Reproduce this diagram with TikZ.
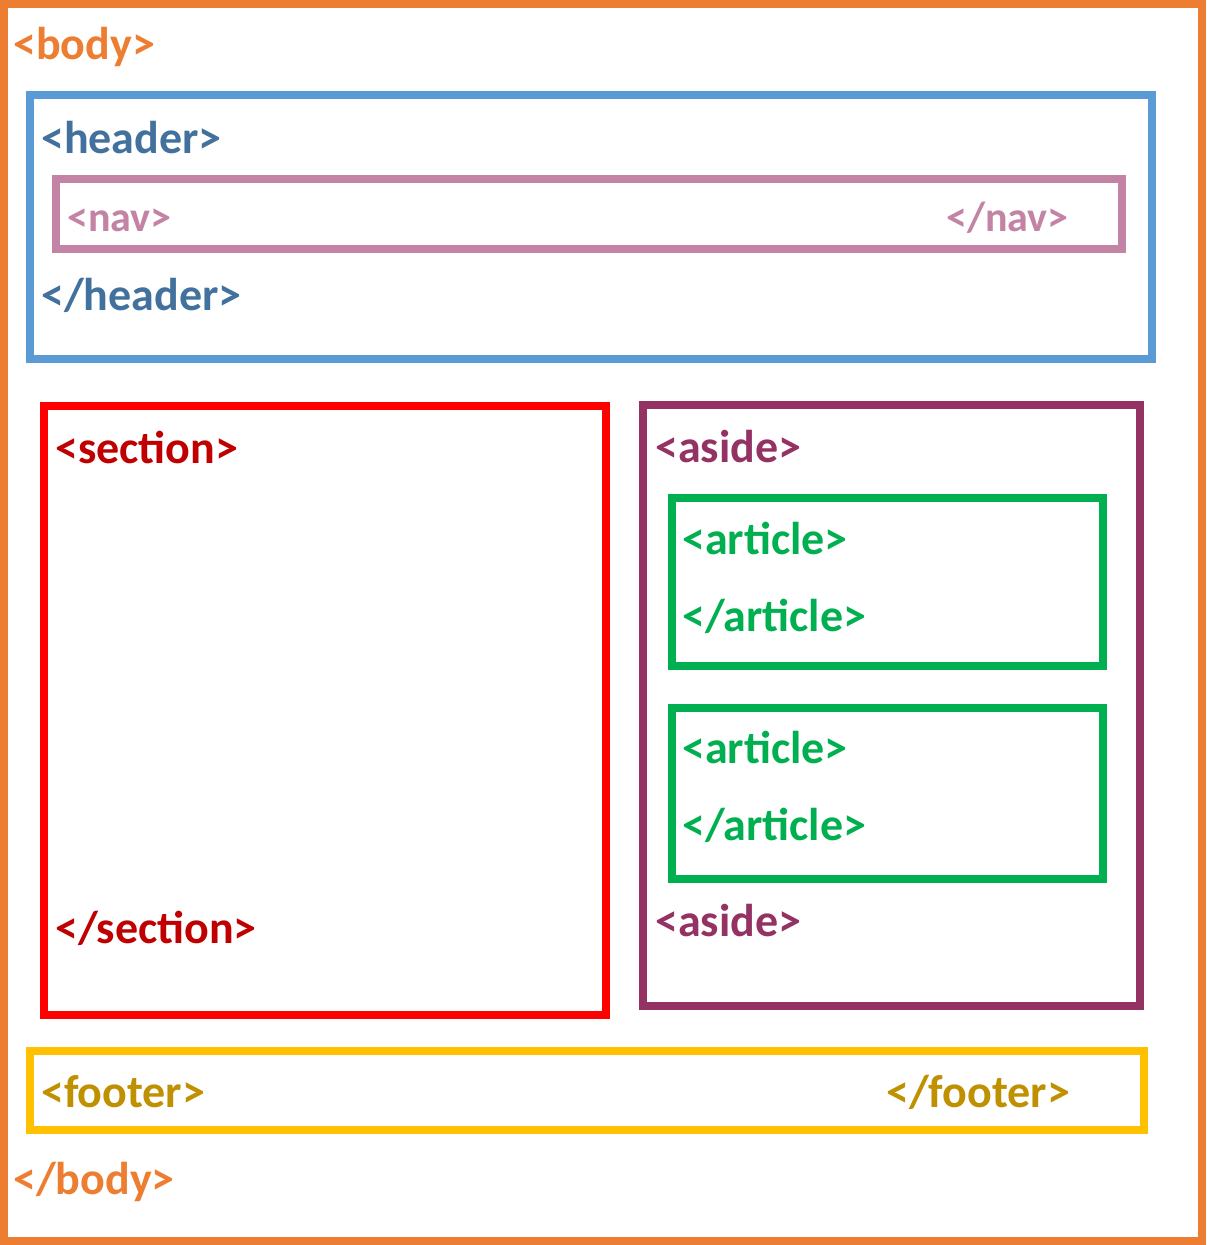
\documentclass[tikz,border=0pt]{standalone}
\usepackage{fontspec}
\setmainfont{Carlito}
\usepackage{tikz}

\definecolor{bodyorange}{HTML}{ED7D31}
\definecolor{headframe}{HTML}{5B9BD5}
\definecolor{headtext}{HTML}{41719C}
\definecolor{navpink}{HTML}{C383A4}
\definecolor{sectext}{HTML}{C00000}
\definecolor{asidepurple}{HTML}{953264}
\definecolor{artgreen}{HTML}{00B050}
\definecolor{footframe}{HTML}{FFC000}
\definecolor{foottext}{HTML}{BF9000}

\tikzset{
  tag/.style={anchor=base west, inner sep=0pt, font=\fontsize{46}{52}\selectfont\bfseries},
  smalltag/.style={tag, font=\fontsize{42}{48}\selectfont\bfseries},
  frame/.style={line width=7.5pt}
}

\begin{document}
\begin{tikzpicture}[x=1pt,y=-1pt]
      \useasboundingbox (0,0) rectangle (1215,1245);
      \fill[white] (0,0) rectangle (1215,1245);
      % boxes
      \draw[frame,bodyorange] (4,4) rectangle (1202,1241);
      \draw[frame,headframe] (30,95) rectangle (1152,359);
      \draw[frame,navpink] (56,179) rectangle (1122,249);
      \draw[frame,red] (44,406) rectangle (606,1015);
      \draw[frame,asidepurple] (643,405) rectangle (1140,1006);
      \draw[frame,artgreen] (672,498) rectangle (1103,666);
      \draw[frame,artgreen] (672,708) rectangle (1103,879);
      \draw[frame,footframe] (30,1051) rectangle (1144,1130);
      % tags
      \node[tag,bodyorange] (bodyopen) at (13,59) {<body>};
      \node[tag,headtext] (headopen) at (41,153) {<header>};
      \node[smalltag,navpink] (navopen) at (67,231) {<nav>};
      \node[smalltag,navpink] (navclose) at (946,231) {</nav>};
      \node[tag,headtext] (headclose) at (41,310) {</header>};
      \node[tag,sectext] (secopen) at (55,463) {<section>};
      \node[tag,sectext] (secclose) at (55,943) {</section>};
      \node[tag,asidepurple] (asideopen) at (655,462) {<aside>};
      \node[tag,artgreen] (artaopen) at (682,554) {<article>};
      \node[tag,artgreen] (artaclose) at (682,631) {</article>};
      \node[tag,artgreen] (artbopen) at (682,763) {<article>};
      \node[tag,artgreen] (artbclose) at (682,840) {</article>};
      \node[tag,asidepurple] (asideclose) at (655,936) {<aside>};
      \node[tag,foottext] (footopen) at (41,1107) {<footer>};
      \node[tag,foottext] (footclose) at (886,1107) {</footer>};
      \node[tag,bodyorange] (bodyclose) at (13,1194) {</body>};
\end{tikzpicture}
\end{document}
